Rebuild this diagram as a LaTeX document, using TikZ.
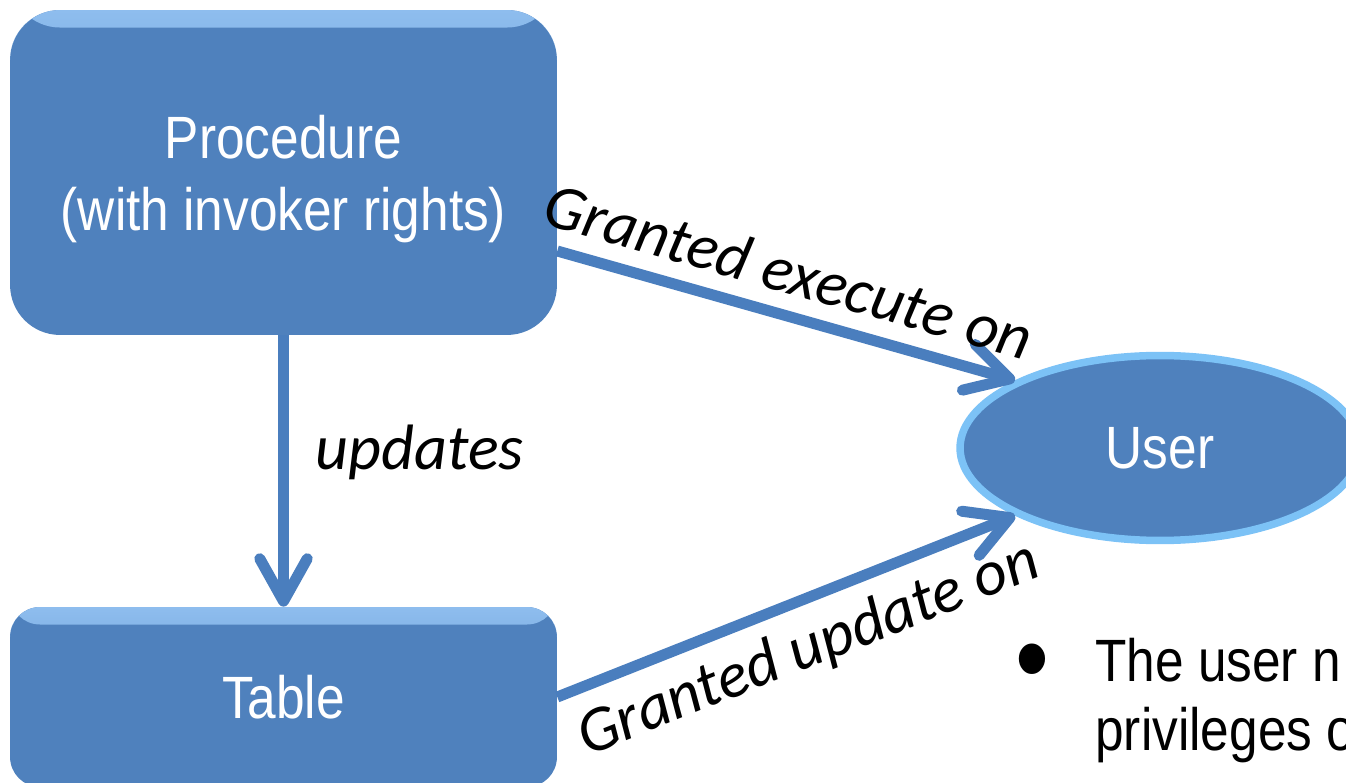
\documentclass[tikz,border=0pt]{standalone}
\usepackage{fontspec}
\usetikzlibrary{positioning,arrows.meta,shapes.geometric}
\newfontfamily\boxfont[FakeStretch=0.86]{Liberation Sans}
\newfontfamily\tagfont{Carlito}
\definecolor{BoxBlue}{HTML}{4F81BD}
\definecolor{BoxGlow}{HTML}{8EBDEE}
\definecolor{RimBlue}{HTML}{7CC2F6}
\definecolor{LinkBlue}{HTML}{4A7EBE}

\begin{document}
\begin{tikzpicture}[x=0.02cm,y=-0.02cm,>={Straight Barb[length=8.5mm,width=9.5mm,round]},
  block/.style={fill=BoxBlue,rounded corners=10mm,minimum width=10.94cm,inner sep=0pt,
    text=white,align=center,font=\boxfont\fontsize{34}{41}\selectfont,
    path picture={\shade[top color=BoxGlow,bottom color=BoxBlue]
      (path picture bounding box.north west) rectangle ([yshift=-3.5mm]path picture bounding box.north east);}},
  link/.style={->,draw=LinkBlue,line width=2.2mm},
  tag/.style={font=\tagfont\itshape\fontsize{36.5}{44}\selectfont,inner sep=0pt},
  note/.style={font=\boxfont\fontsize{34}{41}\selectfont,inner sep=0pt}]
  \useasboundingbox (0,0) rectangle (1346,783);

  \node[block,minimum height=6.5cm] (proc) at (283.5,172.5) {\rule{0pt}{32pt}Procedure\\(with invoker rights)};
  \node[block,minimum height=3.6cm,rounded corners=6mm] (table) at (283.5,697) {Table};
  \node[ellipse,fill=BoxBlue,draw=RimBlue,line width=1.5mm,minimum width=8cm,minimum height=3.7cm,
    inner sep=0pt,text=white,font=\boxfont\fontsize{34}{41}\selectfont] (user) at (1160,448) {User};

  \draw[link] (proc.south) -- (table.north) node[tag,pos=0.43,right=15pt] {updates};
  \draw[link] (proc.-16) -- (user.155) node[tag,pos=0.48,sloped,above=9pt] {Granted execute on};
  \draw[link] (table.east) -- (user.205) node[tag,pos=0.51,sloped,below=9pt] {Granted update on};

  % bullet point, runs off the right edge
  \node[note,anchor=base,font=\boxfont\fontsize{64}{64}\selectfont] (dot) at (1032,697) {\textbullet};
  \node[note,anchor=base west] (first) at (1095,682) {The user n};
  \node[note,anchor=base west] (second) at (1095,750) {privileges o};
\end{tikzpicture}
\end{document}
